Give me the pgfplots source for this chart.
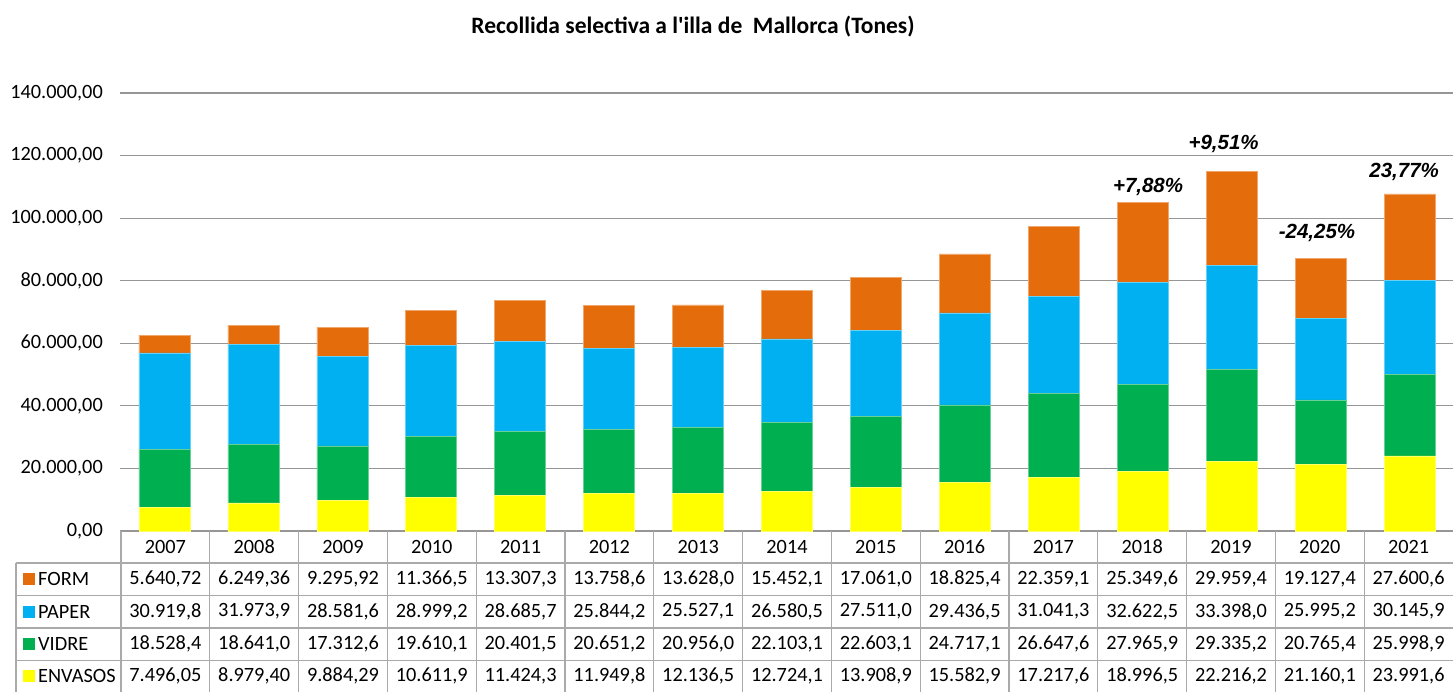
\documentclass[border=0pt]{standalone}
\usepackage{pgfplots}
\pgfplotsset{compat=1.18}
\usepackage{pgfplotstable}
\usepackage{fontspec}
\setmainfont{Carlito}
\newfontfamily\arialfont{Liberation Sans}
\definecolor{cform}{RGB}{228,108,10}
\definecolor{cpaper}{RGB}{0,176,240}
\definecolor{cvidre}{RGB}{0,176,80}
\definecolor{cenv}{RGB}{255,255,0}
\definecolor{gridc}{RGB}{150,150,150}
\definecolor{tabc}{RGB}{170,170,170}
\pgfplotstableread{
x year form paper vidre envasos
0 2007 5640.72 30919.8 18528.4 7496.05
1 2008 6249.36 31973.9 18641.0 8979.40
2 2009 9295.92 28581.6 17312.6 9884.29
3 2010 11366.5 28999.2 19610.1 10611.9
4 2011 13307.3 28685.7 20401.5 11424.3
5 2012 13758.6 25844.2 20651.2 11949.8
6 2013 13628.0 25527.1 20956.0 12136.5
7 2014 15452.1 26580.5 22103.1 12724.1
8 2015 17061.0 27511.0 22603.1 13908.9
9 2016 18825.4 29436.5 24717.1 15582.9
10 2017 22359.1 31041.3 26647.6 17217.6
11 2018 25349.6 32622.5 27965.9 18996.5
12 2019 29959.4 33398.0 29335.2 22216.2
13 2020 19127.4 25995.2 20765.4 21160.1
14 2021 27600.6 30145.9 25998.9 23991.6
}\data
\newcommand{\fs}{\fontsize{20.3}{22}\selectfont}
\begin{document}
\begin{tikzpicture}[x=1pt,y=1pt]
\path[use as bounding box] (0,0) rectangle (1453,691);
\begin{axis}[
  at={(120pt,160pt)}, anchor=south west,
  scale only axis, width=1334pt, height=438pt,
  ybar stacked, bar width=51pt,
  xmin=-0.5, xmax=14.5, ymin=0, ymax=140000,
  xtick=\empty, scaled y ticks=false,
  ytick={0,20000,40000,60000,80000,100000,120000,140000},
  yticklabels={{0,00},{20.000,00},{40.000,00},{60.000,00},{80.000,00},{100.000,00},{120.000,00},{140.000,00}},
  yticklabel style={font=\fs, inner sep=0pt, anchor=east, xshift=-17pt},
  ymajorgrids, grid style={draw=gridc, line width=1.2pt},
  axis line style={draw=none}, major tick length=0pt,
  clip=false,
]
\addplot[fill=cenv, draw=cenv!60!white, line width=0.6pt] table[x=x, y=envasos] {\data};
\addplot[fill=cvidre, draw=cvidre!60!white, line width=0.6pt] table[x=x, y=vidre] {\data};
\addplot[fill=cpaper, draw=cpaper!60!white, line width=0.6pt] table[x=x, y=paper] {\data};
\addplot[fill=cform, draw=cform!60!white, line width=0.6pt] table[x=x, y=form] {\data};
\node[font=\arialfont\bfseries\itshape\fontsize{20.5}{22}\selectfont] at (axis cs:11.06,110000) {+7,88\%};
\node[font=\arialfont\bfseries\itshape\fontsize{20.5}{22}\selectfont] at (axis cs:11.91,123700) {+9,51\%};
\node[font=\arialfont\bfseries\itshape\fontsize{20.5}{22}\selectfont] at (axis cs:12.96,95240) {-24,25\%};
\node[font=\arialfont\bfseries\itshape\fontsize{20.5}{22}\selectfont] at (axis cs:13.94,114736) {23,77\%};
\end{axis}
% title
\node[font=\bfseries\fontsize{23.5}{26}\selectfont] at (693,664) {Recollida selectiva a l\textquotesingle illa de\ \ Mallorca (Tones)};
% table grid
\draw[tabc, line width=1.2pt] (121,160) -- (121,128);
\foreach \k in {1,...,14} {\draw[tabc, line width=1.2pt] (121+88.8*\k,160) -- (121+88.8*\k,-2);}
\draw[tabc, line width=1.2pt] (16,128) -- (1454,128);
\draw[tabc, line width=1.2pt] (16,95.5) -- (1454,95.5);
\draw[tabc, line width=1.2pt] (16,63) -- (1454,63);
\draw[tabc, line width=1.2pt] (16,30.5) -- (1454,30.5);
\draw[tabc, line width=1.2pt] (16,128) -- (16,-2);
\draw[tabc, line width=1.2pt] (121,128) -- (121,-2);
% header
\foreach \v [count=\i from 0] in {2007,2008,2009,2010,2011,2012,2013,2014,2015,2016,2017,2018,2019,2020,2021}
  {\node[font=\fs] at (121+88.8*\i+44.4,144) {\v};}
% legend labels
\fill[cform] (23,106) rectangle (35,118); \node[font=\fs, anchor=west, inner sep=0pt] at (38,112) {FORM};
\fill[cpaper] (23,73.5) rectangle (35,85.5); \node[font=\fs, anchor=west, inner sep=0pt] at (38,79.5) {PAPER};
\fill[cvidre] (23,41) rectangle (35,53); \node[font=\fs, anchor=west, inner sep=0pt] at (38,47) {VIDRE};
\fill[cenv] (23,9) rectangle (35,21); \node[font=\fs, anchor=west, inner sep=0pt] at (38,15) {ENVASOS};
\foreach \v [count=\i from 0] in {{5.640,72},{6.249,36},{9.295,92},{11.366,5},{13.307,3},{13.758,6},{13.628,0},{15.452,1},{17.061,0},{18.825,4},{22.359,1},{25.349,6},{29.959,4},{19.127,4},{27.600,6}}
  {\node[font=\fs] at (121+88.8*\i+44.4,112) {\v};}
\foreach \v [count=\i from 0] in {{30.919,8},{31.973,9},{28.581,6},{28.999,2},{28.685,7},{25.844,2},{25.527,1},{26.580,5},{27.511,0},{29.436,5},{31.041,3},{32.622,5},{33.398,0},{25.995,2},{30.145,9}}
  {\node[font=\fs] at (121+88.8*\i+44.4,79.5) {\v};}
\foreach \v [count=\i from 0] in {{18.528,4},{18.641,0},{17.312,6},{19.610,1},{20.401,5},{20.651,2},{20.956,0},{22.103,1},{22.603,1},{24.717,1},{26.647,6},{27.965,9},{29.335,2},{20.765,4},{25.998,9}}
  {\node[font=\fs] at (121+88.8*\i+44.4,47) {\v};}
\foreach \v [count=\i from 0] in {{7.496,05},{8.979,40},{9.884,29},{10.611,9},{11.424,3},{11.949,8},{12.136,5},{12.724,1},{13.908,9},{15.582,9},{17.217,6},{18.996,5},{22.216,2},{21.160,1},{23.991,6}}
  {\node[font=\fs] at (121+88.8*\i+44.4,15) {\v};}
\end{tikzpicture}
\end{document}
